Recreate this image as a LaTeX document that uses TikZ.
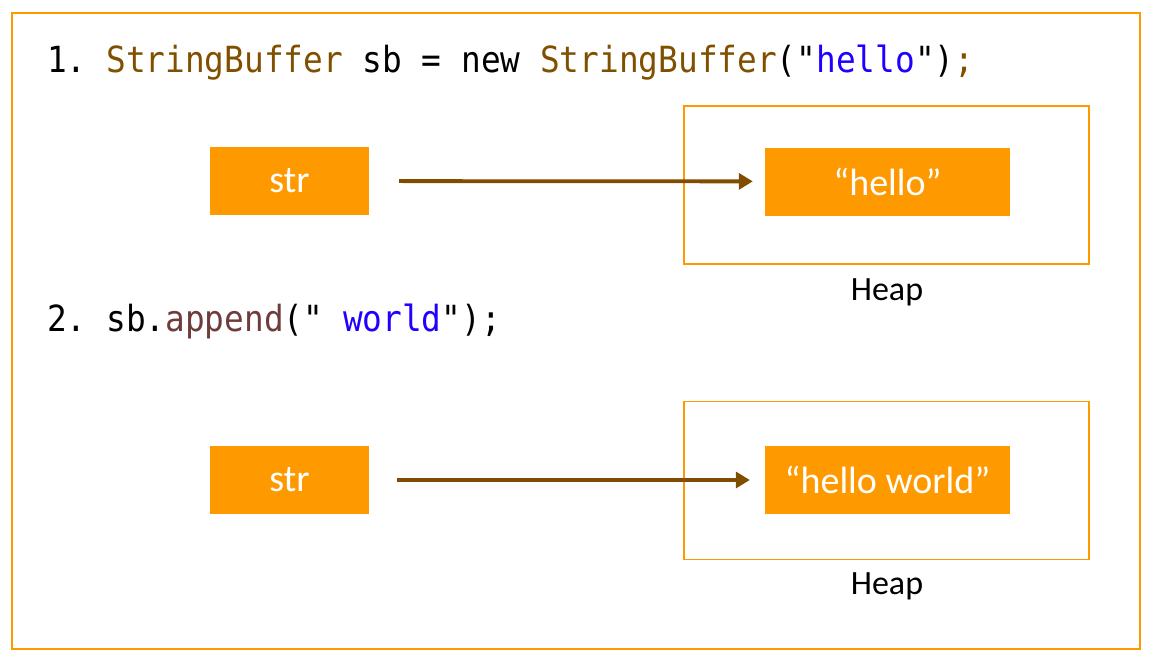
\documentclass[tikz,border=0pt]{standalone}
\usepackage{fontspec}
\setmainfont{Carlito}
\newfontfamily\codefont[FakeStretch=0.91]{DejaVu Sans Mono}
\usetikzlibrary{arrows.meta}
\definecolor{orng}{RGB}{255,153,0}
\definecolor{codebrown}{RGB}{128,80,0}
\definecolor{codeblue}{RGB}{32,0,255}
\definecolor{codemaroon}{RGB}{111,60,60}
\definecolor{arrowbrown}{RGB}{128,77,0}
\begin{document}
\begin{tikzpicture}[x=1pt,y=-1pt,
  valbox/.style={fill=orng, text=white, font=\fontsize{38}{42}\selectfont, minimum height=68pt, inner sep=0pt},
  heapbox/.style={draw=orng, line width=1.6pt, minimum width=405pt, minimum height=158pt, inner sep=0pt},
  heaplabel/.style={anchor=base, font=\fontsize{34}{38}\selectfont},
  code/.style={anchor=base west, inner sep=0pt, font=\codefont\fontsize{36}{40}\selectfont\frenchspacing},
  ref/.style={draw=arrowbrown, line width=3.8pt, -{Triangle[length=14pt,width=16pt]}, shorten <=30pt, shorten >=12pt}]
\useasboundingbox (0,0) rectangle (1157,665);
\draw[orng, line width=2pt] (12,13) rectangle (1140,649);

\node[code] (line1) at (47,72) {1. \textcolor{codebrown}{StringBuffer} sb = new \textcolor{codebrown}{StringBuffer}("\textcolor{codeblue}{hello}")\textcolor{codebrown}{;}};
\node[heapbox] (heap1) at (886.5,185) {};
\node[valbox, minimum width=159pt] (str1) at (289.5,181) {str};
\node[valbox, minimum width=245pt] (hello1) at (887.5,181.5) {“hello”};
\node[heaplabel] (heaplbl1) at (887,300) {Heap};
\draw[ref] (str1) -- (hello1);

\node[code] (line2) at (47,331) {2. sb.\textcolor{codemaroon}{append}("\textcolor{codeblue}{\ world}");};
\node[heapbox] (heap2) at (886.5,480.5) {};
\node[valbox, minimum width=159pt] (str2) at (289.5,480) {str};
\node[valbox, minimum width=245pt] (hello2) at (887.5,480) {“hello world”};
\node[heaplabel] (heaplbl2) at (887,594) {Heap};
\draw[ref, shorten <=28pt, shorten >=15pt] (str2) -- (hello2);
\end{tikzpicture}
\end{document}
